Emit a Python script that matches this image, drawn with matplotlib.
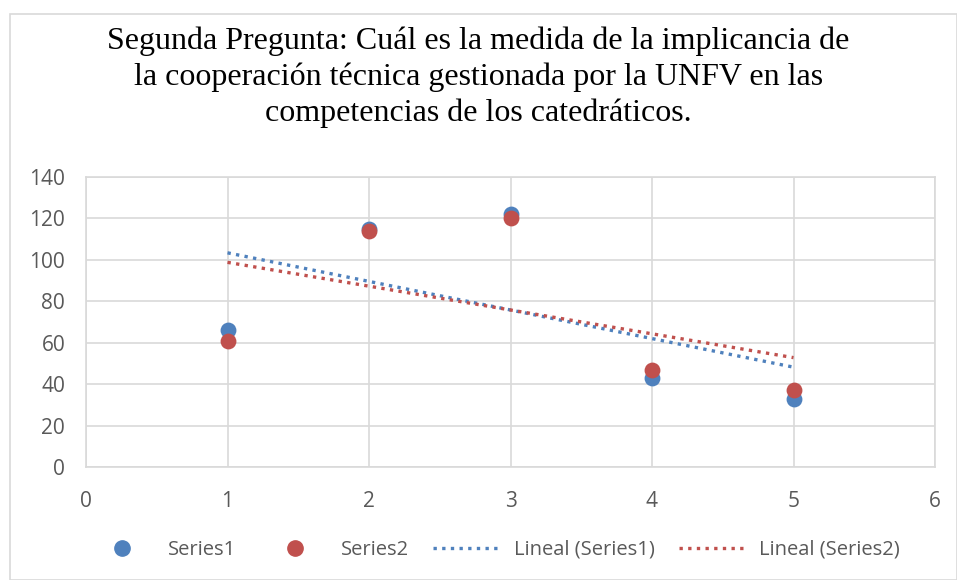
import numpy as np
import matplotlib
matplotlib.use("Agg")
import matplotlib.pyplot as plt
from matplotlib.lines import Line2D
from matplotlib.patches import Rectangle

x = [1, 2, 3, 4, 5]
series1 = [66, 115, 122, 43, 33]
series2 = [61, 114, 120, 47, 37]
labels = ["Series1", "Series2", "Lineal (Series1)", "Lineal (Series2)"]
title = ("Segunda Pregunta: Cuál es la medida de la implicancia de\n"
         "la cooperación técnica gestionada por la UNFV en las\n"
         "competencias de los catedráticos.")

c1 = "#4F81BD"
c2 = "#C0504D"
grid_c = "#D9D9D9"
txt_c = "#595959"

fig = plt.figure(figsize=(9.57, 5.8), dpi=100)
fig.patches.append(Rectangle((10/957, 0), 1 - 10/957, 1 - 14/580, transform=fig.transFigure,
                             fill=False, edgecolor="#D9D9D9", linewidth=1.2))
ax = fig.add_axes([86/957, 1 - 467/580, (935-86)/957, (467-177)/580])

xs = np.array(x, dtype=float)
for ys, c in ((series1, c1), (series2, c2)):
    ax.scatter(xs, ys, s=130, color=c, zorder=3, linewidths=0)
for ys, c in ((series1, c1), (series2, c2)):
    m, b = np.polyfit(xs, np.array(ys, dtype=float), 1)
    ax.plot([xs.min(), xs.max()], [m*xs.min()+b, m*xs.max()+b], color=c,
            linestyle=(0, (1, 1.6)), linewidth=2.4, zorder=2)

ax.set_xlim(0, 6)
ax.set_ylim(0, 140)
ax.set_xticks(range(0, 7))
ax.set_yticks(range(0, 141, 20))
ax.grid(True, color=grid_c, linewidth=1.2)
ax.set_axisbelow(True)
for s in ax.spines.values():
    s.set_color(grid_c)
    s.set_linewidth(1.2)
ax.tick_params(length=0, labelsize=15, colors=txt_c)
ax.tick_params(axis="y", pad=15)
ax.tick_params(axis="x", pad=17)
for lbl in ax.get_xticklabels() + ax.get_yticklabels():
    lbl.set_fontfamily("Open Sans")

fig.text(0.5, 1 - 26/580, title, ha="center", va="top", family="Liberation Serif",
         fontsize=23, linespacing=1.3, color="black")

handles = [
    Line2D([], [], marker="o", linestyle="none", color=c1, markersize=11),
    Line2D([], [], marker="o", linestyle="none", color=c2, markersize=11),
    Line2D([], [], color=c1, linestyle=(0, (1, 1.6)), linewidth=2.4),
    Line2D([], [], color=c2, linestyle=(0, (1, 1.6)), linewidth=2.4),
]
leg = fig.legend(handles, labels, loc="center", bbox_to_anchor=(0.516, 1 - 550/580), ncol=4,
                 frameon=False, prop={"family": "Open Sans", "size": 14.5},
                 handlelength=3.4, columnspacing=1.2, handletextpad=0.6)
for t in leg.get_texts():
    t.set_color(txt_c)

fig.savefig("out.png", dpi=100)
